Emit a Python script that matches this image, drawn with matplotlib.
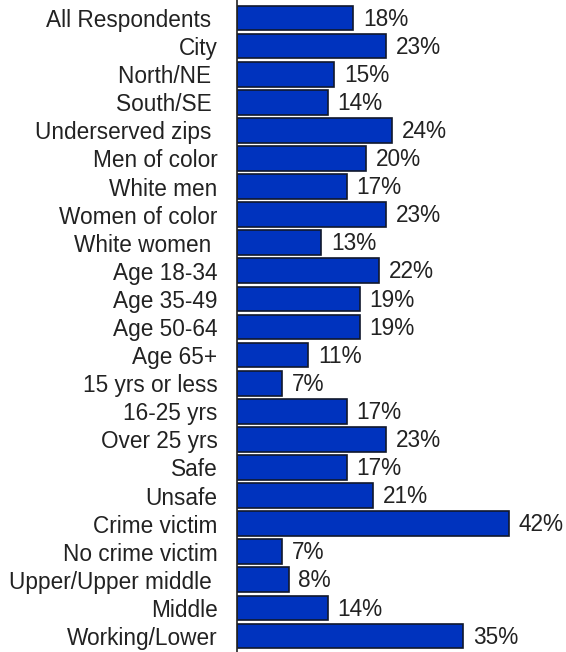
import matplotlib
matplotlib.use("Agg")
import matplotlib.pyplot as plt

plt.rcParams['font.family'] = ['Liberation Sans', 'DejaVu Sans']

groups = ['All Respondents ', 'City', 'North/NE ', 'South/SE ', 'Underserved zips ',
          'Men of color', 'White men', 'Women of color', 'White women ',
          'Age 18-34', 'Age 35-49', 'Age 50-64', 'Age 65+', '15 yrs or less',
          '16-25 yrs', 'Over 25 yrs', 'Safe', 'Unsafe', 'Crime victim',
          'No crime victim', 'Upper/Upper middle ', 'Middle', 'Working/Lower']
pct = [18, 23, 15, 14, 24, 20, 17, 23, 13, 22, 19, 19, 11, 7,
       17, 23, 17, 21, 42, 7, 8, 14, 35]

fig = plt.figure(figsize=(5.66, 6.52), dpi=100)
ax = fig.add_axes([237 / 566, 0, 1 - 237 / 566, 1])

pos = range(len(groups))
ax.barh(pos, pct, height=0.88, color='#0033BE', edgecolor='#10182c', linewidth=1.2)
for p, v in zip(pos, pct):
    ax.text(v + 1.5, p + 0.04, f'{v}%', va='center', ha='left', fontsize=16.3, color='#222222')

ax.set_xlim(0, 50.85)
ax.set_ylim(22.57, -0.64)
ax.set_yticks(list(pos))
ax.set_yticklabels(groups, fontsize=16.3, color='#222222')
ax.tick_params(axis='y', length=0, pad=14)
ax.set_xticks([])
for side in ['top', 'right', 'bottom']:
    ax.spines[side].set_visible(False)
ax.spines['left'].set_color('#222222')
ax.spines['left'].set_linewidth(1.2)

fig.savefig('out.png', dpi=100)
